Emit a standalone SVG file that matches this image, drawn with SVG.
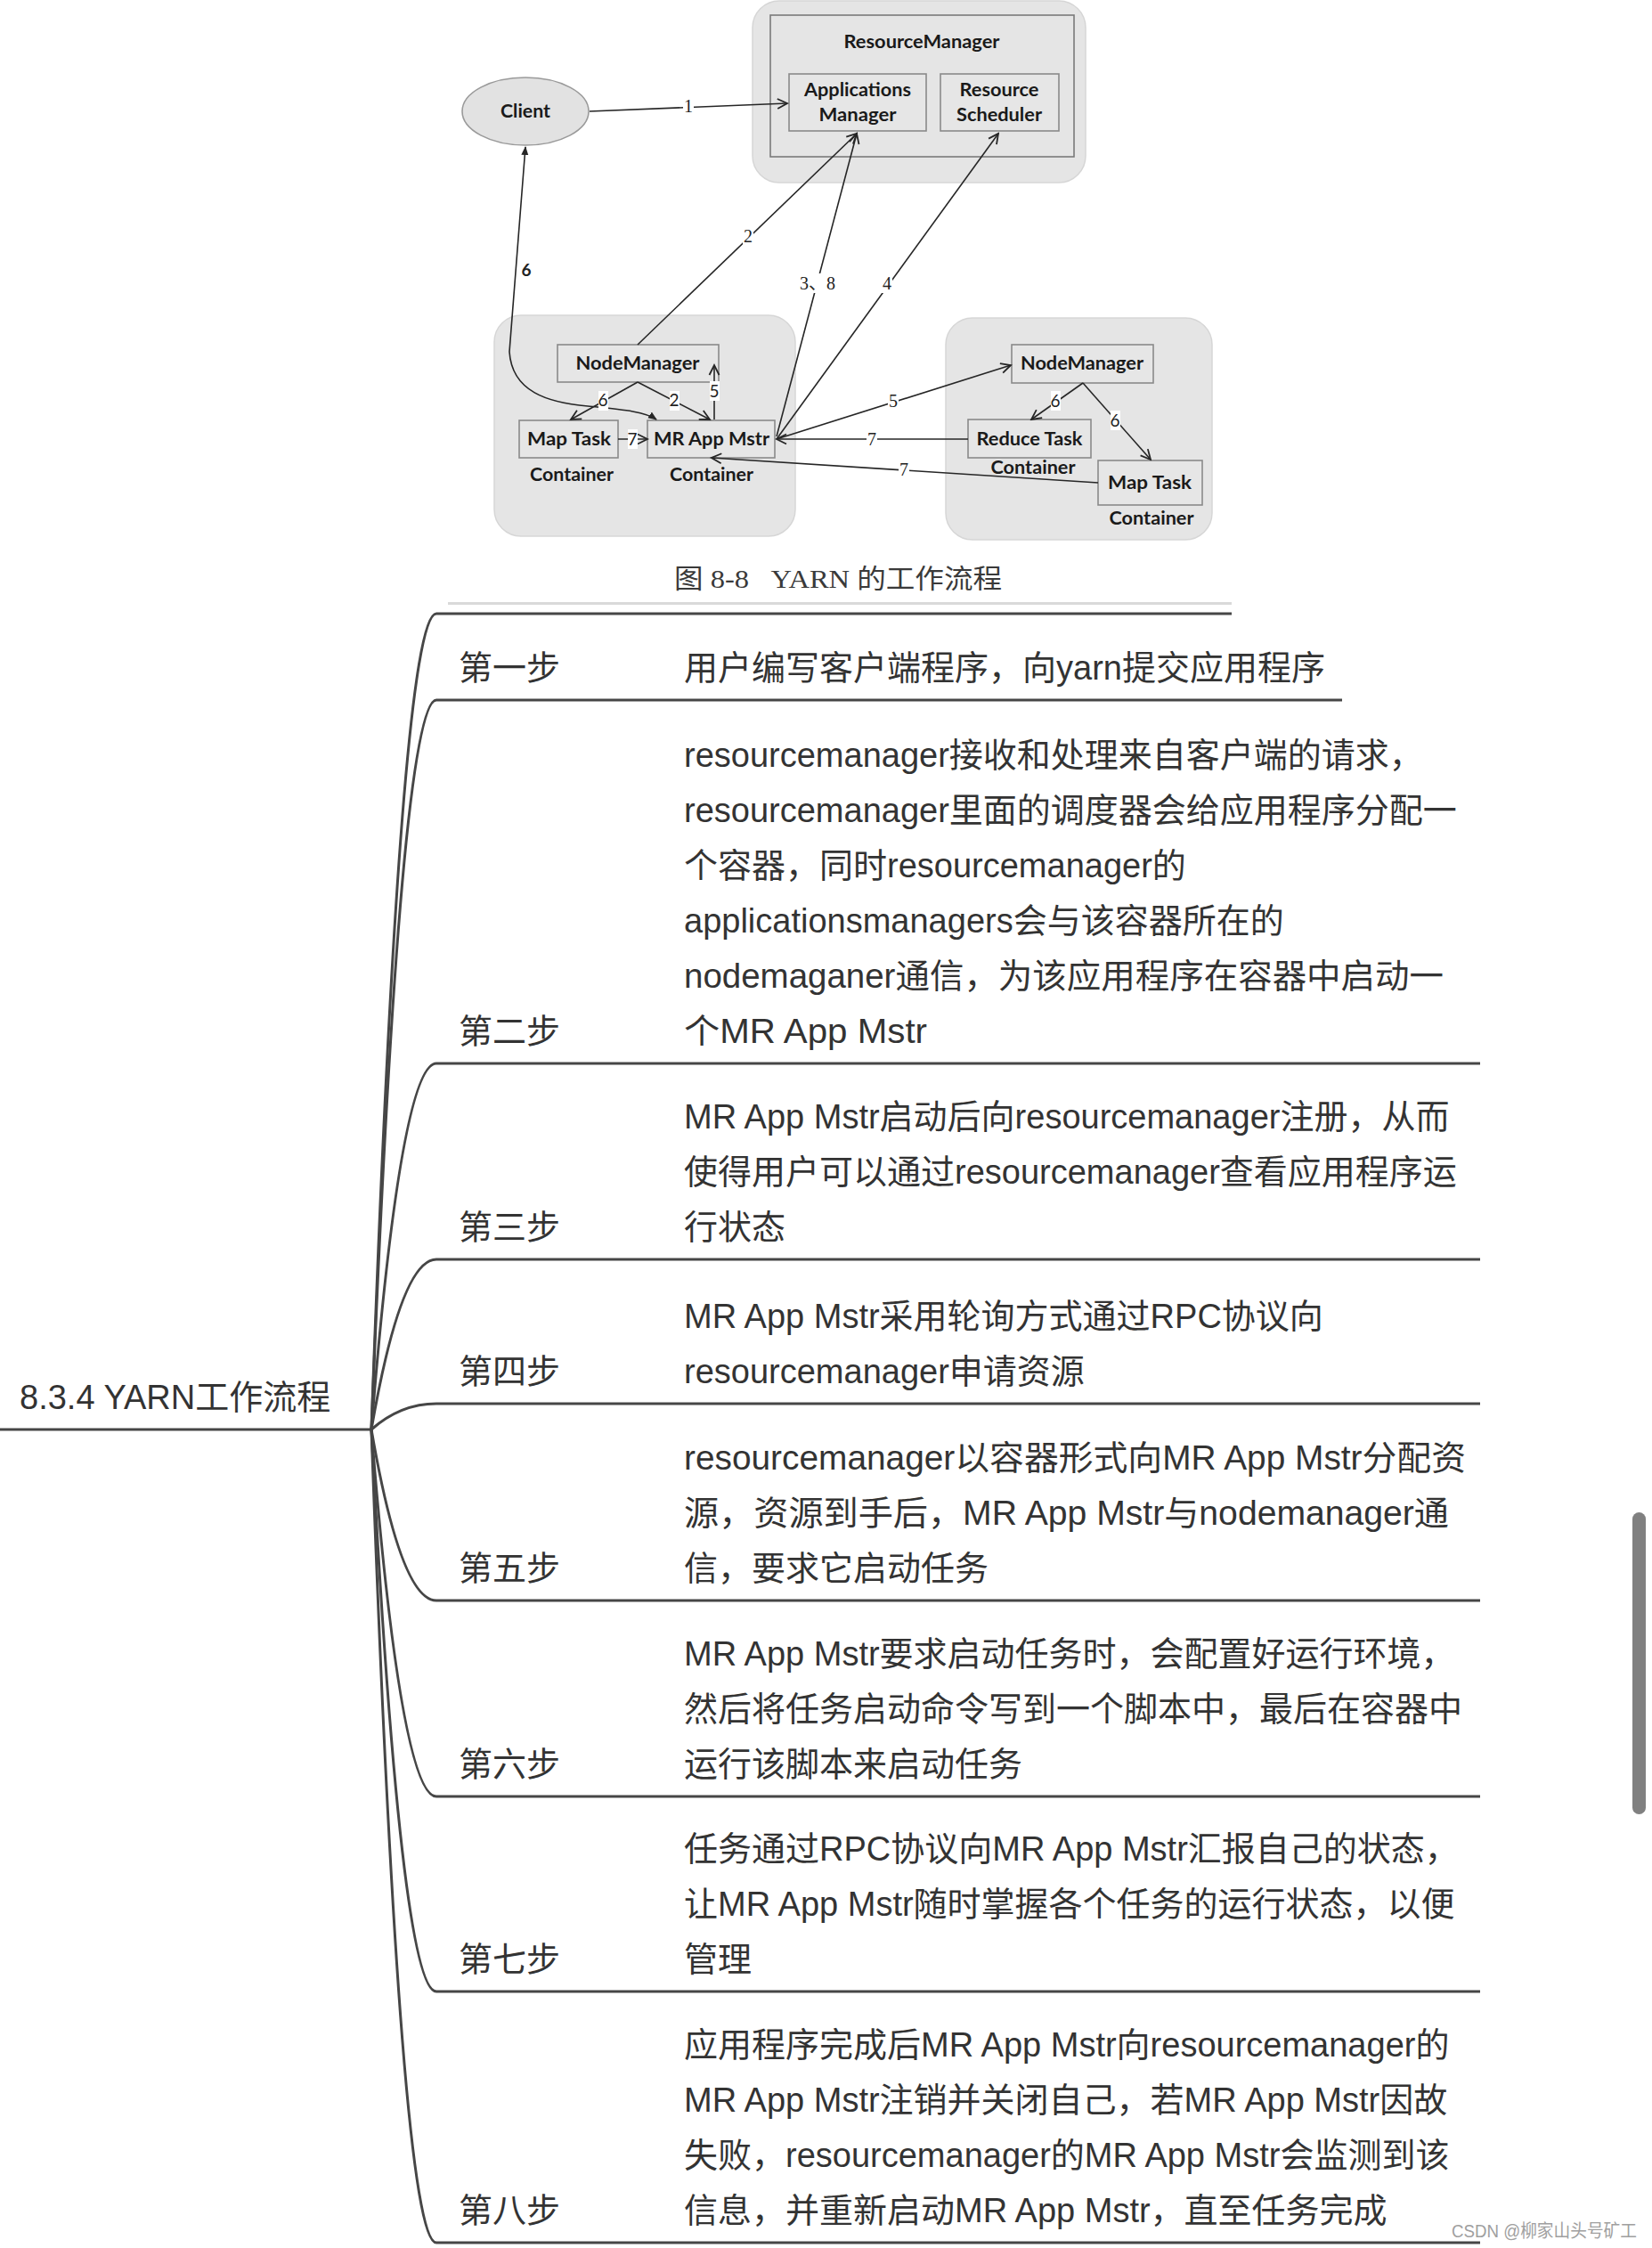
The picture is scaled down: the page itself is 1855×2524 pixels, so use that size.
<svg xmlns="http://www.w3.org/2000/svg" width="1855" height="2524" viewBox="0 0 1855 2524">
<style>
.bg{fill:#e5e5e5;stroke:#d6d6d6;stroke-width:1.5}
.box{fill:#e6e6e6;stroke:#8a8a8a;stroke-width:1.6}
.dl{font-family:Lato,"Liberation Sans",sans-serif;font-weight:bold;font-size:20px;fill:#1a1a1a;text-anchor:middle}
.num{font-family:"Liberation Serif","Noto Sans CJK SC",serif;font-size:20px;fill:#222;text-anchor:middle}
.nums{font-family:Lato,"Liberation Sans",sans-serif;font-size:19px;fill:#222;text-anchor:middle}
.lbg{fill:#ffffff}
.cn{fill:none;stroke:#262626;stroke-width:1.6}
.mm{fill:none;stroke:#464646;stroke-width:3}
.t{font-family:"Liberation Sans","Noto Sans CJK SC",sans-serif;font-size:38px;fill:#333333}
.cap{font-family:"Liberation Serif","Noto Sans CJK SC",serif;font-size:30px;fill:#3a3a3a}
</style>
<defs>
<marker id="open" viewBox="0 0 14 14" refX="12" refY="7" markerWidth="14" markerHeight="14" markerUnits="userSpaceOnUse" orient="auto">
<path d="M1,1.5 L12,7 L1,12.5" fill="none" stroke="#262626" stroke-width="1.8"/>
</marker>
<marker id="solid" viewBox="0 0 10 10" refX="9" refY="5" markerWidth="10" markerHeight="10" markerUnits="userSpaceOnUse" orient="auto-start-reverse">
<path d="M0,1 L10,5 L0,9 z" fill="#262626"/>
</marker>
</defs>
<rect width="1855" height="2524" fill="#ffffff"/>

<!-- Embedded figure -->
<g id="figure">
  <g id="rm-group">
    <rect class="bg" x="845" y="1" width="374" height="204" rx="30"/>
    <rect x="865" y="17" width="341" height="159" fill="#e5e5e5" stroke="#7a7a7a" stroke-width="1.6"/>
    <text class="dl" x="1035" y="54" textLength="175" lengthAdjust="spacingAndGlyphs">ResourceManager</text>
  </g>
  <g id="applications-manager">
    <rect class="box" x="886" y="83" width="154" height="64"/>
    <text class="dl" x="963" y="108" textLength="120" lengthAdjust="spacingAndGlyphs">Applications</text>
    <text class="dl" x="963" y="136" textLength="87" lengthAdjust="spacingAndGlyphs">Manager</text>
  </g>
  <g id="resource-scheduler">
    <rect class="box" x="1056" y="83" width="133" height="64"/>
    <text class="dl" x="1122" y="108" textLength="89" lengthAdjust="spacingAndGlyphs">Resource</text>
    <text class="dl" x="1122" y="136" textLength="96" lengthAdjust="spacingAndGlyphs">Scheduler</text>
  </g>
  <g id="client">
    <ellipse cx="590" cy="125" rx="71" ry="38" fill="#e2e2e2" stroke="#9a9a9a" stroke-width="1.6"/>
    <text class="dl" x="590" y="132" textLength="56" lengthAdjust="spacingAndGlyphs">Client</text>
  </g>
  <g id="node-left">
    <rect class="bg" x="555" y="354" width="338" height="248" rx="30"/>
  </g>
  <g id="node-right">
    <rect class="bg" x="1062" y="357" width="299" height="249" rx="30"/>
  </g>
  <g id="nodemanager-left">
    <rect class="box" x="626" y="387" width="181" height="42"/>
    <text class="dl" x="716" y="415" textLength="139" lengthAdjust="spacingAndGlyphs">NodeManager</text>
  </g>
  <g id="maptask-left">
    <rect class="box" x="583" y="472" width="111" height="42"/>
    <text class="dl" x="639" y="500" textLength="94" lengthAdjust="spacingAndGlyphs">Map Task</text>
    <text class="dl" x="642" y="540" textLength="94" lengthAdjust="spacingAndGlyphs">Container</text>
  </g>
  <g id="mr-app-mstr">
    <rect class="box" x="727" y="472" width="143" height="42"/>
    <text class="dl" x="799" y="500" textLength="130" lengthAdjust="spacingAndGlyphs">MR App Mstr</text>
    <text class="dl" x="799" y="540" textLength="94" lengthAdjust="spacingAndGlyphs">Container</text>
  </g>
  <g id="nodemanager-right">
    <rect class="box" x="1136" y="387" width="159" height="43"/>
    <text class="dl" x="1215" y="415" textLength="138" lengthAdjust="spacingAndGlyphs">NodeManager</text>
  </g>
  <g id="reducetask">
    <rect class="box" x="1087" y="471" width="138" height="43"/>
    <text class="dl" x="1156" y="500" textLength="119" lengthAdjust="spacingAndGlyphs">Reduce Task</text>
    <text class="dl" x="1160" y="532" textLength="95" lengthAdjust="spacingAndGlyphs">Container</text>
  </g>
  <g id="maptask-right">
    <rect class="box" x="1233" y="517" width="117" height="50"/>
    <text class="dl" x="1291" y="549" textLength="94" lengthAdjust="spacingAndGlyphs">Map Task</text>
    <text class="dl" x="1293" y="589" textLength="95" lengthAdjust="spacingAndGlyphs">Container</text>
  </g>
  <g id="figure-connectors">
    <path class="cn" d="M662,125 L884,116" marker-end="url(#open)"/>
    <path class="cn" d="M716,387 L962,150" marker-end="url(#open)"/>
    <path class="cn" d="M872,490 L962,150" marker-end="url(#open)"/>
    <path class="cn" d="M872,493 L1121,150" marker-end="url(#open)"/>
    <path class="cn" d="M590,165 L572,395 C575,440 615,452 660,456 C700,460 724,462 737,471" marker-start="url(#solid)" marker-end="url(#solid)"/>
    <path class="cn" d="M716,429 L641,471" marker-end="url(#open)"/>
    <path class="cn" d="M716,429 L797,471" marker-end="url(#open)"/>
    <path class="cn" d="M802,471 L802,410" marker-end="url(#open)"/>
    <path class="cn" d="M694,493 L727,493" marker-end="url(#open)"/>
    <path class="cn" d="M872,493 L1135,410" marker-end="url(#open)"/>
    <path class="cn" d="M1087,493 L872,493" marker-end="url(#open)"/>
    <path class="cn" d="M1233,542 L799,514" marker-end="url(#open)"/>
    <path class="cn" d="M1216,430 L1158,471" marker-end="url(#open)"/>
    <path class="cn" d="M1216,430 L1292,516" marker-end="url(#open)"/>
    <!-- labels -->
    <rect class="lbg" x="767" y="108" width="12" height="20"/>
    <text class="num" x="773" y="126">1</text>
    <rect class="lbg" x="834" y="254" width="12" height="22"/>
    <text class="num" x="840" y="272">2</text>
    <rect class="lbg" x="898" y="307" width="40" height="22"/>
    <text class="num" x="918" y="325">3、8</text>
    <rect class="lbg" x="990" y="307" width="12" height="22"/>
    <text class="num" x="996" y="325">4</text>
    <text x="591" y="310" style="font-family:Lato,'Liberation Sans',sans-serif;font-weight:bold;font-size:19px;fill:#222;text-anchor:middle">6</text>
    <rect class="lbg" x="672" y="439" width="11" height="22"/>
    <text class="nums" x="677" y="456">6</text>
    <rect class="lbg" x="752" y="439" width="11" height="22"/>
    <text class="nums" x="757" y="456">2</text>
    <rect class="lbg" x="797" y="428" width="11" height="22"/>
    <text class="nums" x="802" y="446">5</text>
    <rect class="lbg" x="705" y="482" width="11" height="22"/>
    <text class="nums" x="710" y="500">7</text>
    <rect class="lbg" x="997" y="439" width="12" height="22"/>
    <text class="num" x="1003" y="457">5</text>
    <rect class="lbg" x="973" y="482" width="12" height="22"/>
    <text class="num" x="979" y="500">7</text>
    <rect class="lbg" x="1009" y="516" width="12" height="22"/>
    <text class="num" x="1015" y="534">7</text>
    <rect class="lbg" x="1180" y="439" width="11" height="22"/>
    <text class="nums" x="1185" y="457">6</text>
    <rect class="lbg" x="1247" y="461" width="11" height="22"/>
    <text class="nums" x="1252" y="479">6</text>
  </g>
  <text class="cap" x="757" y="660" textLength="368" lengthAdjust="spacingAndGlyphs">图 8-8&#160;&#160;&#160;YARN 的工作流程</text>
  <rect x="503" y="676" width="880" height="3" fill="#d9d9d9"/>
</g>

<!-- Mind map connectors -->
<g id="mindmap-connectors">
  <path class="mm" d="M0,1605 L417,1605"/>
  <path class="mm" d="M417,1605 Q450,689 490,689 L1383,689"/>
  <path class="mm" d="M417,1605 Q450,786 490,786 L1507,786"/>
  <path class="mm" d="M417,1605 Q450,1194 490,1194 L1662,1194"/>
  <path class="mm" d="M417,1605 Q450,1414 490,1414 L1662,1414"/>
  <path class="mm" d="M417,1605 Q450,1576 490,1576 L1662,1576"/>
  <path class="mm" d="M417,1605 Q450,1797 490,1797 L1662,1797"/>
  <path class="mm" d="M417,1605 Q450,2017 490,2017 L1662,2017"/>
  <path class="mm" d="M417,1605 Q450,2236 490,2236 L1662,2236"/>
  <path class="mm" d="M417,1605 Q450,2518 490,2518 L1662,2518"/>
</g>

<g id="root">
  <text class="t" x="22" y="1582">8.3.4 YARN工作流程</text>
</g>

<g id="step1">
  <text class="t" x="515" y="763">第一步</text>
  <text class="t" x="768" y="763">用户编写客户端程序，向yarn提交应用程序</text>
</g>
<g id="step2">
  <text class="t" x="515" y="1171">第二步</text>
  <text class="t" x="768" y="861">resourcemanager接收和处理来自客户端的请求，</text>
  <text class="t" x="768" y="923">resourcemanager里面的调度器会给应用程序分配一</text>
  <text class="t" x="768" y="985">个容器，同时resourcemanager的</text>
  <text class="t" x="768" y="1047">applicationsmanagers会与该容器所在的</text>
  <text class="t" x="768" y="1109" textLength="853" lengthAdjust="spacingAndGlyphs">nodemaganer通信，为该应用程序在容器中启动一</text>
  <text class="t" x="768" y="1171" textLength="273" lengthAdjust="spacingAndGlyphs">个MR App Mstr</text>
</g>
<g id="step3">
  <text class="t" x="515" y="1391">第三步</text>
  <text class="t" x="768" y="1267">MR App Mstr启动后向resourcemanager注册，从而</text>
  <text class="t" x="768" y="1329">使得用户可以通过resourcemanager查看应用程序运</text>
  <text class="t" x="768" y="1391">行状态</text>
</g>
<g id="step4">
  <text class="t" x="515" y="1553">第四步</text>
  <text class="t" x="768" y="1491">MR App Mstr采用轮询方式通过RPC协议向</text>
  <text class="t" x="768" y="1553">resourcemanager申请资源</text>
</g>
<g id="step5">
  <text class="t" x="515" y="1774">第五步</text>
  <text class="t" x="768" y="1650" textLength="878" lengthAdjust="spacingAndGlyphs">resourcemanager以容器形式向MR App Mstr分配资</text>
  <text class="t" x="768" y="1712" textLength="859" lengthAdjust="spacingAndGlyphs">源，资源到手后，MR App Mstr与nodemanager通</text>
  <text class="t" x="768" y="1774">信，要求它启动任务</text>
</g>
<g id="step6">
  <text class="t" x="515" y="1994">第六步</text>
  <text class="t" x="768" y="1870">MR App Mstr要求启动任务时，会配置好运行环境，</text>
  <text class="t" x="768" y="1932">然后将任务启动命令写到一个脚本中，最后在容器中</text>
  <text class="t" x="768" y="1994">运行该脚本来启动任务</text>
</g>
<g id="step7">
  <text class="t" x="515" y="2213">第七步</text>
  <text class="t" x="768" y="2089">任务通过RPC协议向MR App Mstr汇报自己的状态，</text>
  <text class="t" x="768" y="2151">让MR App Mstr随时掌握各个任务的运行状态，以便</text>
  <text class="t" x="768" y="2213">管理</text>
</g>
<g id="step8">
  <text class="t" x="515" y="2495">第八步</text>
  <text class="t" x="768" y="2309">应用程序完成后MR App Mstr向resourcemanager的</text>
  <text class="t" x="768" y="2371">MR App Mstr注销并关闭自己，若MR App Mstr因故</text>
  <text class="t" x="768" y="2433">失败，resourcemanager的MR App Mstr会监测到该</text>
  <text class="t" x="768" y="2495">信息，并重新启动MR App Mstr，直至任务完成</text>
</g>

<rect id="scrollbar" x="1833" y="1698" width="15" height="339" rx="7.5" fill="#808080"/>
<text x="1630" y="2512" style="font-family:'Liberation Sans','Noto Sans CJK SC',sans-serif;font-size:20px;fill:#a0a0a0" textLength="208" lengthAdjust="spacingAndGlyphs">CSDN @柳家山头号矿工</text>
</svg>
